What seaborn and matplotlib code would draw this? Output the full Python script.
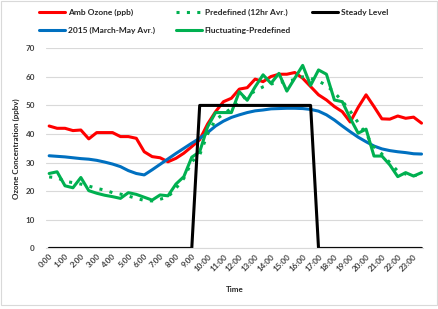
import pandas as pd
import matplotlib.pyplot as plt
import numpy as np
import seaborn as sns

# half-hourly values, 0:00 .. 23:30
amb_ozone = [42.8, 42.0, 42.0, 41.2, 41.4, 38.3, 40.5, 40.5, 40.5, 39.1, 39.1, 38.5,
             33.8, 32.1, 31.7, 30.3, 31.5, 33.3, 35.6, 38.0, 43.5, 47.8, 51.3, 52.5,
             55.7, 56.2, 59.2, 58.3, 60.1, 60.9, 60.9, 61.5, 59.5, 56.6, 53.7, 51.9,
             49.6, 47.8, 44.2, 49.3, 53.7, 49.6, 45.3, 45.2, 46.3, 45.5, 45.9, 43.8]
avg_2015 = [32.4, 32.2, 32.0, 31.7, 31.4, 31.2, 30.8, 30.2, 29.5, 28.6, 27.2, 26.2,
            25.7, 27.5, 29.4, 31.3, 33.2, 35.0, 36.8, 38.5, 40.5, 42.8, 44.5, 45.8,
            46.7, 47.5, 48.1, 48.4, 48.8, 48.9, 49.0, 49.0, 48.9, 48.6, 48.0, 46.7,
            44.9, 42.8, 40.8, 38.9, 37.3, 35.8, 34.8, 34.2, 33.8, 33.5, 33.1, 33.0]
predefined = [25.0, 24.7, 23.5, 23.0, 22.5, 21.8, 21.0, 20.4, 19.5, 19.0, 18.3, 17.5,
              16.8, 16.6, 17.2, 18.0, 21.0, 24.5, 30.3, 32.7, 40.0, 45.0, 47.0, 49.0,
              51.5, 53.5, 55.0, 56.5, 57.5, 58.0, 58.5, 59.0, 60.0, 59.5, 58.5, 57.0,
              54.5, 51.5, 48.0, 44.0, 40.0, 35.5, 33.0, 30.0, 27.0, 26.0, 25.5, 25.5]
fluctuating = [26.2, 26.8, 21.9, 21.2, 24.8, 20.2, 19.3, 18.6, 18.1, 17.5, 19.5, 18.9,
               17.9, 16.9, 18.7, 18.4, 22.5, 25.1, 31.9, 33.8, 42.5, 47.5, 47.5, 47.5,
               54.8, 51.8, 56.5, 60.7, 57.7, 61.2, 55.0, 59.5, 64.0, 57.0, 62.4, 60.9,
               51.9, 51.3, 45.5, 40.3, 41.7, 32.3, 32.3, 29.2, 25.1, 26.5, 25.3, 26.5]
steady = [0] * 19 + [50] * 15 + [0] * 14
hour_labels = [f"{h}:00" for h in range(24)]

df = pd.DataFrame({
    'k': np.arange(48),
    'Amb Ozone (ppb)': amb_ozone,
    '2015 (March-May Avr.)': avg_2015,
    'Predefined (12hr Avr.)': predefined,
    'Fluctuating-Predefined': fluctuating,
    'Steady Level': steady,
})

sns.set_style("white")
plt.rcParams['font.family'] = ['Lato', 'DejaVu Sans']

fig = plt.figure(figsize=(4.38, 3.09), dpi=100)
ax = fig.add_axes([0.105, 0.196, 0.861, 0.648])

lw = 2.2
sns.lineplot(data=df, x='k', y='Amb Ozone (ppb)', color='#FF0000', lw=lw, ax=ax, label='Amb Ozone (ppb)')
sns.lineplot(data=df, x='k', y='2015 (March-May Avr.)', color='#0070C0', lw=lw, ax=ax, label='2015 (March-May Avr.)')
sns.lineplot(data=df, x='k', y='Predefined (12hr Avr.)', color='#00B050', lw=lw, ls=(0, (1, 2.4)), ax=ax, label='Predefined (12hr Avr.)')
sns.lineplot(data=df, x='k', y='Fluctuating-Predefined', color='#00B050', lw=lw, ax=ax, label='Fluctuating-Predefined')
sns.lineplot(data=df, x='k', y='Steady Level', color='black', lw=lw, ax=ax, label='Steady Level')

ax.set_xlim(-0.4, 47.2)
ax.set_ylim(0, 70)
ax.set_yticks(range(0, 71, 10))
ax.set_xticks(range(0, 48, 2))
ax.set_xticklabels(hour_labels, rotation=45, ha='right', rotation_mode='anchor',
                   fontsize=5.8, fontweight='bold', color='#404040')
ax.tick_params(axis='y', labelsize=5.8, labelcolor='#404040', length=0, pad=8)
ax.tick_params(axis='x', length=0, pad=3)
for lab in ax.get_yticklabels():
    lab.set_fontweight('bold')
ax.grid(axis='y', color='#D9D9D9', lw=0.8)
ax.set_axisbelow(True)
for s in ['top', 'right', 'left']:
    ax.spines[s].set_visible(False)
ax.spines['bottom'].set_color('#D9D9D9')

ax.set_xlabel('Time', fontsize=5.8, fontweight='bold', labelpad=10)
ax.set_ylabel('Ozone Concentration (ppbv)', fontsize=5.8, fontweight='bold', labelpad=4)

handles, labels = ax.get_legend_handles_labels()
ax.get_legend().remove()
leg = fig.legend(handles, labels, ncol=3, loc='upper left', bbox_to_anchor=(0.09, 0.972),
                 frameon=False, fontsize=6, handlelength=3.1, handletextpad=0.35,
                 columnspacing=2.5, labelspacing=1.3, borderpad=0, borderaxespad=0)
for t in leg.get_texts():
    t.set_fontweight('bold')

fig.patches.append(plt.Rectangle((0.002, 0.012), 0.996, 0.986, transform=fig.transFigure,
                                 fill=False, edgecolor='#D9D9D9', lw=0.8))

fig.savefig('out.png', dpi=100)
